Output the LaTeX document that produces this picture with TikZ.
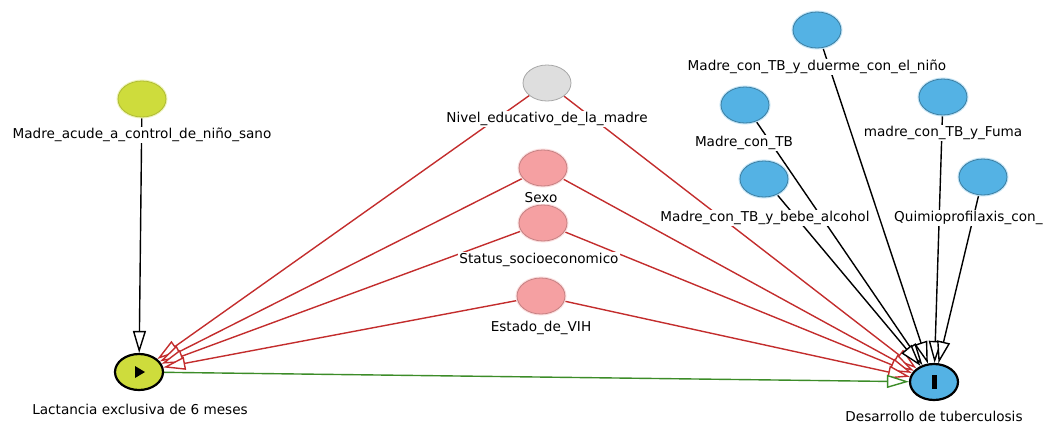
\documentclass[tikz,border=0pt]{standalone}
\usepackage{fontspec}
\setmainfont{DejaVu Sans}
\usetikzlibrary{arrows.meta,backgrounds,shapes.geometric}

\definecolor{expcol}{RGB}{206,220,60}
\definecolor{anccol}{RGB}{84,178,228}
\definecolor{confcol}{RGB}{245,160,162}
\definecolor{unobscol}{RGB}{222,222,222}
\definecolor{biascol}{RGB}{195,45,45}
\definecolor{causcol}{RGB}{60,140,40}

\begin{document}
\begin{tikzpicture}[x=1pt,y=-1pt,
	var/.style={ellipse, minimum width=48pt, minimum height=36pt, inner sep=0pt},
	anc/.style={var, fill=anccol, draw=anccol!70!black, line width=0.8pt, preaction={draw=anccol!35, line width=3pt}},
	conf/.style={var, fill=confcol, draw=confcol!80!black, line width=0.8pt, preaction={draw=confcol!35, line width=3pt}},
	unobs/.style={var, fill=unobscol, draw=unobscol!75!black, line width=0.8pt},
	expo/.style={var, fill=expcol, draw=black, line width=2.2pt},
	outc/.style={var, fill=anccol, draw=black, line width=2.2pt},
	pale/.style={var, fill=expcol, draw=expcol!85!black, line width=0.8pt, preaction={draw=expcol!35, line width=3pt}},
	lbl/.style={fill=white, inner sep=1pt, font=\fontsize{13.6}{15}\selectfont},
	tip/.style={-{Triangle[length=22pt, width=13pt, fill=white]}, line width=1.4pt},
	causal/.style={tip, draw=black},
	biasing/.style={tip, draw=biascol},
	effect/.style={tip, draw=causcol}]

	\useasboundingbox (0,0) rectangle (1052,423);

	% draw variables
	\node[pale]  (acude)   at (142,99)  {};
	\node[expo]  (lact)    at (139,372) {};
	\node[unobs] (nivel)   at (547,83)  {};
	\node[conf]  (sexo)    at (543,168) {};
	\node[conf]  (status)  at (543,223) {};
	\node[conf]  (vih)     at (541,296) {};
	\node[outc]  (tb)      at (934,382) {};
	\node[anc]   (duerme)  at (817,30)  {};
	\node[anc]   (madretb) at (745,105) {};
	\node[anc]   (fuma)    at (943,97)  {};
	\node[anc]   (alcohol) at (764,179) {};
	\node[anc]   (quimio)  at (983,177) {};

	% draw markers
	\fill[black] (lact.center) ++(-4,-6) -- ++(0,12) -- ++(10,-6) -- cycle;
	\fill[black] (tb.center) ++(-2.5,-7) rectangle ++(5,14);

	% draw labels
	\node[lbl] (acude_l)   at (142,135) {Madre\_acude\_a\_control\_de\_niño\_sano};
	\node[lbl] (lact_l)    at (140,409) {Lactancia exclusiva de 6 meses};
	\node[lbl] (nivel_l)   at (547,119) {Nivel\_educativo\_de\_la\_madre};
	\node[lbl] (sexo_l)    at (541,198) {Sexo};
	\node[lbl] (status_l)  at (539,260) {Status\_socioeconomico};
	\node[lbl] (vih_l)     at (541,328) {Estado\_de\_VIH};
	\node[lbl] (tb_l)      at (934,416) {Desarrollo de tuberculosis};
	\node[lbl] (duerme_l)  at (817,67)  {Madre\_con\_TB\_y\_duerme\_con\_el\_niño};
	\node[lbl] (madretb_l) at (744,143) {Madre\_con\_TB};
	\node[lbl] (fuma_l)    at (943,133) {madre\_con\_TB\_y\_Fuma};
	\node[lbl] (alcohol_l) at (765,218) {Madre\_con\_TB\_y\_bebe\_alcohol};
	\node[lbl, anchor=west] (quimio_l) at (893,218) {Quimioprofilaxis\_con\_};

	% draw edges
	\begin{scope}[on background layer]
		\foreach \s in {nivel,sexo,status,vih}
		{
			\path (\s) edge[biasing] (lact);
			\path (\s) edge[biasing] (tb);
		}
		\foreach \s in {duerme,madretb,fuma,alcohol,quimio}
		{
			\path (\s) edge[causal] (tb);
		}
		\path (acude) edge[causal] (lact);
		\path (lact) edge[effect] (tb);
	\end{scope}

\end{tikzpicture}
\end{document}
